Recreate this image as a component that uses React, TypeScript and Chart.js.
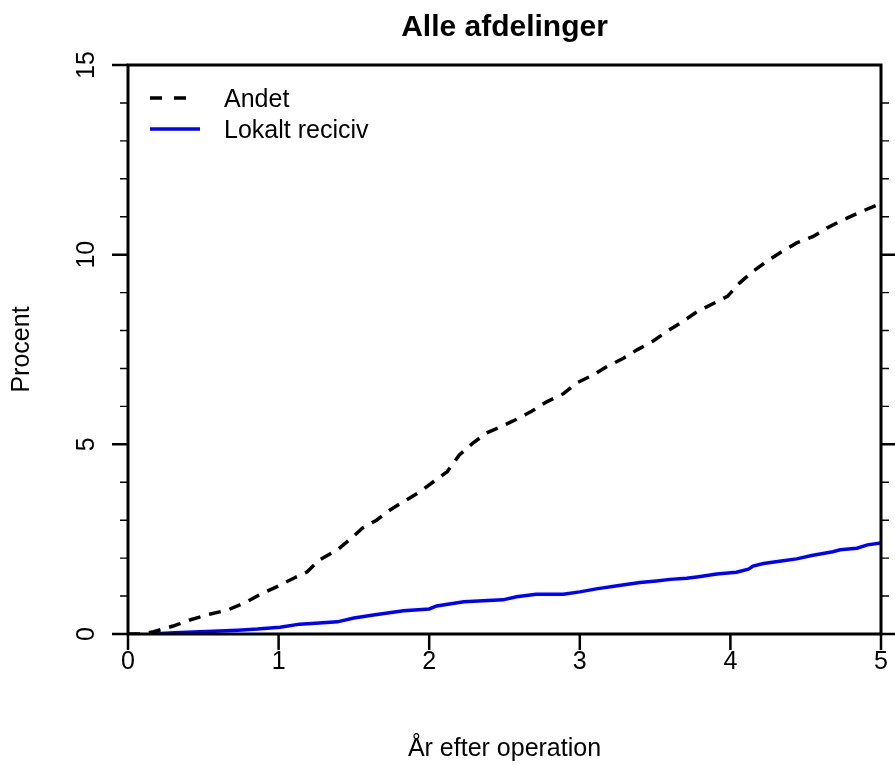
import React, { useEffect, useRef } from "react";
import { Chart, registerables } from "chart.js";

Chart.register(...registerables);

const TITLE = "Alle afdelinger";
const X_LABEL = "År efter operation";
const Y_LABEL = "Procent";
const X_TICKS = [0, 1, 2, 3, 4, 5];
const Y_MAJOR = [0, 5, 10, 15];
const Y_MINOR = [1, 2, 3, 4, 6, 7, 8, 9, 11, 12, 13, 14];
const SERIES_NAMES = ["Andet", "Lokalt reciciv"];

const andetX = [0, 0.1, 0.17, 0.3, 0.41, 0.54, 0.66, 0.79, 0.88, 0.99, 1.1, 1.19, 1.27, 1.39, 1.47, 1.56, 1.65, 1.74, 1.83, 1.94, 2.03, 2.12, 2.2, 2.29, 2.38, 2.47, 2.58, 2.68, 2.78, 2.89, 2.98, 3.09, 3.18, 3.29, 3.38, 3.49, 3.58, 3.67, 3.78, 3.89, 3.98, 4.06, 4.15, 4.24, 4.33, 4.44, 4.55, 4.64, 4.75, 4.86, 5.0];
const andetY = [0, 0, 0.06, 0.21, 0.37, 0.52, 0.63, 0.85, 1.05, 1.25, 1.47, 1.64, 1.95, 2.22, 2.48, 2.8, 3.0, 3.27, 3.49, 3.75, 4.02, 4.28, 4.72, 5.03, 5.3, 5.45, 5.66, 5.87, 6.12, 6.33, 6.62, 6.83, 7.05, 7.27, 7.49, 7.73, 7.98, 8.2, 8.5, 8.72, 8.9, 9.25, 9.56, 9.82, 10.05, 10.31, 10.48, 10.7, 10.92, 11.12, 11.35];

const lokX = [0.15, 0.31, 0.73, 0.86, 1.01, 1.14, 1.27, 1.39, 1.5, 1.63, 1.83, 2.0, 2.05, 2.23, 2.49, 2.58, 2.71, 2.89, 3.0, 3.11, 3.25, 3.33, 3.4, 3.51, 3.6, 3.71, 3.79, 3.91, 4.04, 4.12, 4.15, 4.22, 4.35, 4.44, 4.54, 4.68, 4.73, 4.84, 4.91, 5.0];
const lokY = [0, 0.03, 0.1, 0.13, 0.18, 0.26, 0.29, 0.32, 0.42, 0.5, 0.61, 0.66, 0.74, 0.85, 0.9, 0.98, 1.05, 1.05, 1.11, 1.19, 1.27, 1.32, 1.36, 1.4, 1.44, 1.47, 1.51, 1.58, 1.63, 1.71, 1.79, 1.86, 1.93, 1.98, 2.07, 2.17, 2.22, 2.26, 2.35, 2.4];

const FONT = "'Liberation Sans', Arial, Helvetica, sans-serif";

const framePlugin = {
  id: "rframe",
  afterDatasetsDraw(chart: any) {
    const ctx = chart.ctx as CanvasRenderingContext2D;
    const xs = chart.scales.x;
    const ys = chart.scales.y;
    const l = xs.getPixelForValue(0);
    const r = xs.getPixelForValue(5);
    const b = ys.getPixelForValue(0);
    const t = ys.getPixelForValue(15);
    ctx.save();
    ctx.strokeStyle = "#000";
    ctx.lineCap = "square";
    // frame
    ctx.lineWidth = 3;
    ctx.beginPath();
    ctx.moveTo(l, t); ctx.lineTo(r, t);
    ctx.lineTo(r, b);
    ctx.lineTo(l, b);
    ctx.lineTo(l, t);
    ctx.stroke();
    ctx.lineCap = "butt";
    // major ticks
    ctx.lineWidth = 2.5;
    ctx.beginPath();
    for (const v of Y_MAJOR) {
      const y = ys.getPixelForValue(v);
      ctx.moveTo(l - 16, y); ctx.lineTo(l, y);
      if (v < 15) { ctx.moveTo(r, y); ctx.lineTo(r + 15, y); }
    }
    for (const v of X_TICKS) {
      const x = xs.getPixelForValue(v);
      ctx.moveTo(x, b); ctx.lineTo(x, b + 16);
    }
    ctx.stroke();
    // minor y ticks
    ctx.lineWidth = 1.4;
    ctx.beginPath();
    for (const v of Y_MINOR) {
      const y = ys.getPixelForValue(v);
      ctx.moveTo(l - 8, y); ctx.lineTo(l, y);
      ctx.moveTo(r, y); ctx.lineTo(r + 8, y);
    }
    ctx.stroke();

    ctx.fillStyle = "#000";
    ctx.textAlign = "center";
    ctx.textBaseline = "middle";
    ctx.font = `25px ${FONT}`;
    for (const v of X_TICKS) {
      ctx.fillText(String(v), xs.getPixelForValue(v), b + 28);
    }
    ctx.fillText(X_LABEL, (l + r) / 2, b + 115);
    for (const v of Y_MAJOR) {
      ctx.save();
      ctx.translate(l - 41, ys.getPixelForValue(v));
      ctx.rotate(-Math.PI / 2);
      ctx.fillText(String(v), 0, 0);
      ctx.restore();
    }
    ctx.save();
    ctx.translate(22, (t + b) / 2);
    ctx.rotate(-Math.PI / 2);
    ctx.fillText(Y_LABEL, 0, 0);
    ctx.restore();

    ctx.font = `bold 30px ${FONT}`;
    ctx.fillText(TITLE, (l + r) / 2, 28);

    // legend
    ctx.font = `25px ${FONT}`;
    ctx.textAlign = "left";
    ctx.lineWidth = 3.5;
    ctx.setLineDash([12, 12]);
    ctx.beginPath();
    ctx.moveTo(150, 98); ctx.lineTo(190, 98);
    ctx.stroke();
    ctx.setLineDash([]);
    ctx.strokeStyle = "#0000ff";
    ctx.beginPath();
    ctx.moveTo(150, 129); ctx.lineTo(200, 129);
    ctx.stroke();
    ctx.fillText(SERIES_NAMES[0], 224, 100);
    ctx.fillText(SERIES_NAMES[1], 224, 131);
    ctx.restore();
  },
};

export default function App() {
  const ref = useRef<HTMLCanvasElement>(null);
  useEffect(() => {
    if (!ref.current) return;
    const chart = new Chart(ref.current, {
      type: "line",
      data: {
        datasets: [
          {
            label: SERIES_NAMES[0],
            data: andetX.map((x, i) => ({ x, y: andetY[i] })),
            borderColor: "#000000",
            borderWidth: 3.5,
            borderDash: [12, 9],
            pointRadius: 0,
            tension: 0,
            fill: false,
          },
          {
            label: SERIES_NAMES[1],
            data: lokX.map((x, i) => ({ x, y: lokY[i] })),
            borderColor: "#0000ff",
            borderWidth: 3.5,
            pointRadius: 0,
            tension: 0,
            fill: false,
          },
        ],
      },
      options: {
        responsive: false,
        animation: false,
        devicePixelRatio: 1,
        layout: { padding: { left: 128, top: 65, right: 14, bottom: 131 } },
        plugins: { legend: { display: false }, title: { display: false }, tooltip: { enabled: false } },
        scales: {
          x: { type: "linear", min: 0, max: 5, display: false },
          y: { type: "linear", min: 0, max: 15, display: false },
        },
      },
      plugins: [framePlugin],
    });
    return () => chart.destroy();
  }, []);
  return (
    <div style={{ position: "absolute", left: 0, top: 0, width: 895, height: 765, background: "#fff" }}>
      <canvas ref={ref} width={895} height={765} />
    </div>
  );
}
